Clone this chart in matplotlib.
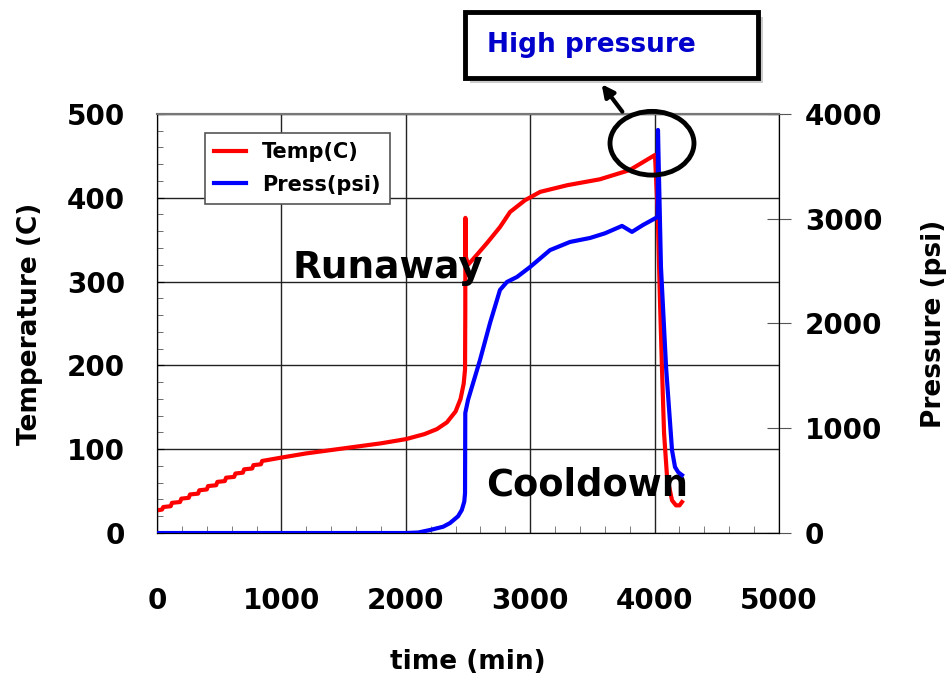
import matplotlib
matplotlib.use('Agg')
import matplotlib.pyplot as plt
from matplotlib.patches import Ellipse, Rectangle
from matplotlib.ticker import MultipleLocator

plt.rcParams['font.family'] = ['DejaVu Sans']
plt.rcParams['font.weight'] = 'bold'

# temperature trace (min, C)
temp_time = [0, 40, 50, 110, 120, 185, 195, 255, 265, 330, 340, 400, 410, 475, 485,
             545, 555, 620, 630, 690, 700, 765, 775, 835, 845, 885,
             1000, 1200, 1400, 1600, 1800, 2000, 2150, 2250, 2330, 2400, 2440, 2465,
             2476, 2478, 2479, 2482, 2500, 2560, 2653, 2757, 2838, 2958, 3080, 3300,
             3560, 3800, 4003, 4025, 4043, 4059, 4076, 4100, 4140, 4172, 4200, 4220]
temp = [27, 28, 31, 32, 36, 37, 41, 42, 46, 47, 51, 52, 56, 57, 61,
        62, 66, 67, 71, 72, 76, 77, 81, 82, 86, 87,
        90, 95, 99, 103, 107, 112, 118, 124, 132, 145, 160, 178,
        195, 260, 376, 330, 320, 330, 346, 365, 383, 397, 407, 415,
        422, 433, 451, 382, 278, 198, 119, 67, 39, 33, 33, 37]

# pressure trace (min, psi)
press_time = [0, 1000, 2000, 2100, 2195, 2300, 2355, 2420, 2450, 2470, 2476, 2478,
              2500, 2596, 2677, 2757, 2813, 2894, 3000, 3159, 3320, 3481, 3600, 3738,
              3818, 3907, 4025, 4027, 4051, 4092, 4140, 4164, 4190, 4220]
press = [0, 0, 0, 5, 29, 60, 95, 160, 220, 300, 380, 1145,
         1270, 1650, 2005, 2320, 2396, 2444, 2540, 2700, 2778, 2816, 2860, 2931,
         2874, 2940, 3017, 3847, 2540, 1585, 790, 630, 580, 553]

fig = plt.figure(figsize=(9.5, 6.76), dpi=100)
ax = fig.add_axes([0.1653, 0.2115, 0.6547, 0.620])
ax2 = ax.twinx()

l1, = ax.plot(temp_time, temp, color='#ff0000', lw=3, label='Temp(C)', zorder=3)
l2, = ax2.plot(press_time, press, color='#0000ff', lw=3, label='Press(psi)', zorder=3)

ax.set_xlim(0, 5000)
ax.set_ylim(0, 500)
ax2.set_ylim(0, 4000)

ax.xaxis.set_major_locator(MultipleLocator(1000))
ax.xaxis.set_minor_locator(MultipleLocator(200))
ax.yaxis.set_major_locator(MultipleLocator(100))
ax.yaxis.set_minor_locator(MultipleLocator(20))
ax2.yaxis.set_major_locator(MultipleLocator(1000))

ax.grid(True, which='major', color='#222222', lw=1)
ax.tick_params(axis='x', which='major', direction='in', length=0, pad=39, labelsize=20)
ax.tick_params(axis='x', which='minor', direction='in', length=5, color='#666666')
ax.tick_params(axis='y', which='major', direction='in', length=5, pad=23, labelsize=20)
ax.tick_params(axis='y', which='minor', direction='in', length=4, color='#555555')
ax2.tick_params(axis='y', direction='inout', length=17, color='#555555', pad=10, labelsize=20)

for a in (ax, ax2):
    a.spines['top'].set_color('#777777')
    a.spines['top'].set_linewidth(1.5)
    a.spines['left'].set_color('black')
    a.spines['right'].set_color('black')
    a.spines['bottom'].set_color('black')

ax.set_xlabel('time (min)', fontsize=19, fontweight='bold', labelpad=24)
ax.set_ylabel('Temperature (C)', fontsize=19, fontweight='bold', labelpad=17)
ax2.set_ylabel('Pressure (psi)', fontsize=19, fontweight='bold', labelpad=28)

leg = ax2.legend([l1, l2], ['Temp(C)', 'Press(psi)'], loc='upper left',
                 bbox_to_anchor=(0.077, 0.955), fontsize=15, fancybox=False,
                 framealpha=1, edgecolor='#555555', handlelength=1.5,
                 labelspacing=0.6, borderpad=0.45, borderaxespad=0)
leg.get_frame().set_linewidth(1.2)

ax.text(1860, 316, 'Runaway', fontsize=27, fontweight='bold', ha='center', va='center', zorder=5)
ax.text(3460, 57, 'Cooldown', fontsize=26.5, fontweight='bold', ha='center', va='center', zorder=5)

# circle round the pressure peak
ell = Ellipse((3979, 465), 675, 76, fill=False, edgecolor='black', lw=3.5,
              clip_on=False, zorder=6)
ax2.add_patch(ell)
ell.set_transform(ax.transData)

# callout box above the plot
shadow = Rectangle((0.4945, 0.8766), 0.3084, 0.0976, transform=fig.transFigure,
                   facecolor='#aaaaaa', edgecolor='none', alpha=0.6, zorder=1)
box = Rectangle((0.4895, 0.8846), 0.3084, 0.0976, transform=fig.transFigure,
                facecolor='white', edgecolor='black', lw=3.5, zorder=2)
fig.add_artist(shadow)
fig.add_artist(box)
fig.text(0.5126, 0.9334, 'High pressure', color='#0000cc', fontsize=19,
         fontweight='bold', ha='left', va='center', zorder=3)

ax2.annotate('', xy=(0.6316, 0.8787), xycoords='figure fraction',
             xytext=(3754, 500), textcoords=ax.transData,
             arrowprops=dict(arrowstyle='-|>', lw=3, color='black', mutation_scale=18),
             annotation_clip=False)

fig.savefig('out.png', dpi=100)
